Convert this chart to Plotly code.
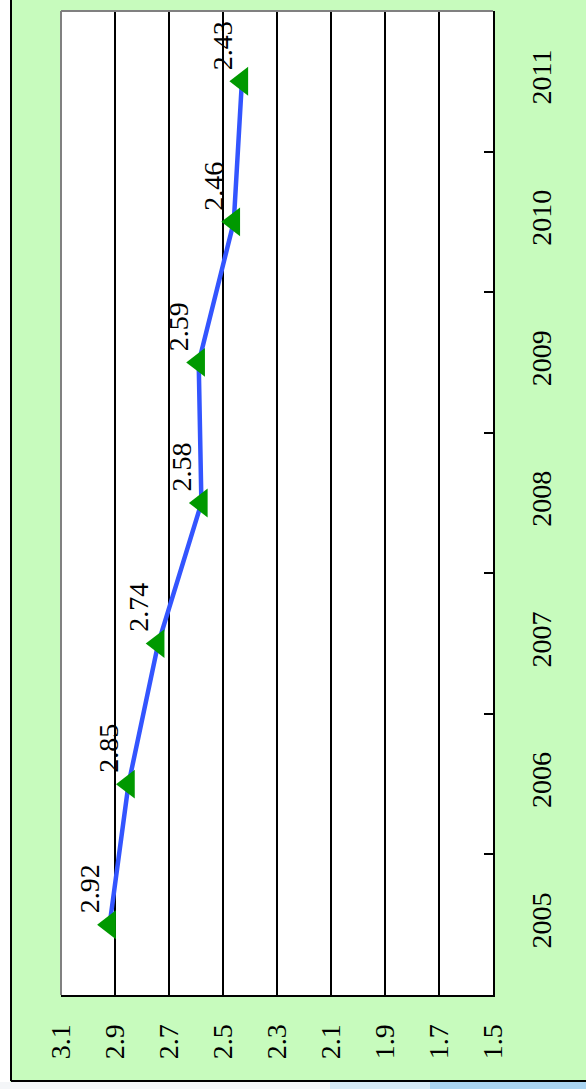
import plotly.graph_objects as go

# ---- data ----
years = ["2005", "2006", "2007", "2008", "2009", "2010", "2011"]
values = [2.92, 2.85, 2.74, 2.58, 2.59, 2.46, 2.43]
value_ticks = [3.1, 2.9, 2.7, 2.5, 2.3, 2.1, 1.9, 1.7, 1.5]
value_tick_labels = ["3.1", "2.9", "2.7", "2.5", "2.3", "2.1", "1.9", "1.7", "1.5"]

# ---- layout geometry (pixels) ----
W, H = 586, 1089
PL, PR, PT, PB = 61, 493, 11, 995


def px_x(px):
    return (px - PL) / (PR - PL)


def px_y(py):
    return (PB - py) / (PB - PT)


FONT = "Liberation Serif"
GREEN_BG = "#C7FBBD"

fig = go.Figure()
fig.add_trace(go.Scatter(
    x=values, y=years, mode="lines+markers",
    line=dict(color="#3355FF", width=4.5),
    marker=dict(symbol="triangle-left", size=25, color="#009900"),
    hoverinfo="skip", showlegend=False,
))

annotations = []
for i, v in enumerate(values):
    annotations.append(dict(
        x=v, y=i, xref="x", yref="y", text=f"{v:.2f}", showarrow=False,
        textangle=-90, xshift=-20, yshift=36,
        font=dict(family=FONT, size=28, color="black"),
    ))

shapes = [
    # white strip left of frame
    dict(type="rect", xref="paper", yref="paper", x0=px_x(-2), x1=px_x(10),
         y0=px_y(-2), y1=px_y(H + 2), fillcolor="white", line=dict(width=0), layer="below"),
    # bottom strip
    dict(type="rect", xref="paper", yref="paper", x0=px_x(-2), x1=px_x(W + 2),
         y0=px_y(H + 2), y1=px_y(1082), fillcolor="#F4F6F8", line=dict(width=0), layer="below"),
    dict(type="rect", xref="paper", yref="paper", x0=px_x(330), x1=px_x(430),
         y0=px_y(H + 2), y1=px_y(1082), fillcolor="#D6EAF6", line=dict(width=0), layer="below"),
    dict(type="rect", xref="paper", yref="paper", x0=px_x(430), x1=px_x(W + 2),
         y0=px_y(H + 2), y1=px_y(1082), fillcolor="#A9D4F1", line=dict(width=0), layer="below"),
    # frame lines
    dict(type="line", xref="paper", yref="paper", x0=px_x(11), x1=px_x(11),
         y0=px_y(-2), y1=px_y(1081), line=dict(color="black", width=2), layer="below"),
    dict(type="line", xref="paper", yref="paper", x0=px_x(11), x1=px_x(W + 2),
         y0=px_y(1081), y1=px_y(1081), line=dict(color="black", width=2), layer="below"),
    # gray plot border (left & top)
    dict(type="line", xref="paper", yref="paper", x0=0, x1=0, y0=0, y1=1,
         line=dict(color="#808080", width=2), layer="above"),
    dict(type="line", xref="paper", yref="paper", x0=0, x1=1, y0=1, y1=1,
         line=dict(color="#808080", width=2), layer="above"),
]

fig.update_layout(
    width=W, height=H,
    margin=dict(l=PL, r=W - PR, t=PT, b=H - PB, pad=0),
    paper_bgcolor=GREEN_BG, plot_bgcolor="white",
    font=dict(family=FONT, size=28, color="black"),
    annotations=annotations, shapes=shapes,
    xaxis=dict(
        range=[3.1, 1.5], tickvals=value_ticks, ticktext=value_tick_labels,
        tickangle=-90, showgrid=True, gridcolor="black", gridwidth=1.5,
        showline=True, linecolor="black", linewidth=2, zeroline=False,
        ticks="", ticklabelstandoff=16, tickfont=dict(family=FONT, size=28),
        fixedrange=True,
    ),
    yaxis=dict(
        type="category", categoryorder="array", categoryarray=years,
        range=[-0.5, 6.5], side="right", tickson="boundaries",
        ticks="inside", ticklen=9, tickwidth=2, tickcolor="black",
        showline=True, linecolor="black", linewidth=2, showgrid=False,
        zeroline=False, tickangle=-90, ticklabelstandoff=22,
        tickfont=dict(family=FONT, size=28), fixedrange=True,
    ),
)

fig.write_html("out.html", config={"displayModeBar": False},
               post_script="document.body.style.margin='0';")
